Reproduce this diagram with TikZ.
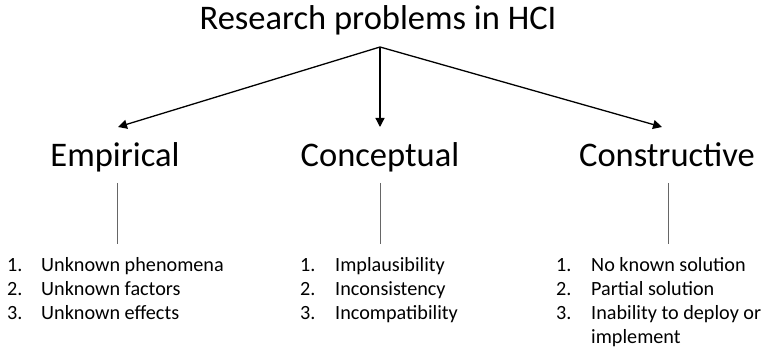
\documentclass[tikz,border=0pt]{standalone}
\usepackage{fontspec}
\setmainfont{Carlito}
\usetikzlibrary{arrows.meta}
\begin{document}
\begin{tikzpicture}[x=1pt,y=-1pt,
  heading/.style={font=\fontsize{34.5}{40}\selectfont, anchor=base, inner sep=0pt},
  itemtext/.style={font=\fontsize{20.2}{24}\selectfont, anchor=base west, inner sep=0pt},
  branch/.style={line width=1.3pt, -{Triangle[length=9pt,width=9pt]}},
  stem/.style={draw=black!60, line width=0.8pt}]
  \useasboundingbox (0,0) rectangle (766,352);

  % root and the three kinds of problem
  \node[heading] (root) at (378,29.5) {Research problems in HCI};
  \coordinate (apex) at (380,47);
  \node[heading] (emp) at (115,167) {Empirical};
  \node[heading] (con) at (380,167) {Conceptual};
  \node[heading] (cst) at (667,167) {Constructive};

  \coordinate (empTip) at (118,127);
  \coordinate (conTip) at (380,127);
  \coordinate (cstTip) at (662,127);
  \draw[branch] (apex) -- (empTip);
  \draw[branch] (apex) -- (conTip);
  \draw[branch] (apex) -- (cstTip);

  % stems down to the lists
  \coordinate (empA) at (117,183); \coordinate (empB) at (117,244);
  \coordinate (conA) at (380,183); \coordinate (conB) at (380,244);
  \coordinate (cstA) at (668,183); \coordinate (cstB) at (668,244);
  \draw[stem] (empA) -- (empB);
  \draw[stem] (conA) -- (conB);
  \draw[stem] (cstA) -- (cstB);

  % empirical list
  \node[itemtext] (e1n) at (7,272) {1.};
  \node[itemtext] (e1) at (41,272) {Unknown phenomena};
  \node[itemtext] (e2n) at (7,295.8) {2.};
  \node[itemtext] (e2) at (41,295.8) {Unknown factors};
  \node[itemtext] (e3n) at (7,319.6) {3.};
  \node[itemtext] (e3) at (41,319.6) {Unknown effects};

  % conceptual list
  \node[itemtext] (c1n) at (300,272) {1.};
  \node[itemtext] (c1) at (335,272) {Implausibility};
  \node[itemtext] (c2n) at (300,295.8) {2.};
  \node[itemtext] (c2) at (335,295.8) {Inconsistency};
  \node[itemtext] (c3n) at (300,319.6) {3.};
  \node[itemtext] (c3) at (335,319.6) {Incompatibility};

  % constructive list
  \node[itemtext] (k1n) at (556,272) {1.};
  \node[itemtext] (k1) at (591,272) {No known solution};
  \node[itemtext] (k2n) at (556,295.8) {2.};
  \node[itemtext] (k2) at (591,295.8) {Partial solution};
  \node[itemtext] (k3n) at (556,319.6) {3.};
  \node[itemtext] (k3) at (591,319.6) {Inability to deploy or};
  \node[itemtext] (k3b) at (591,343.4) {implement};
\end{tikzpicture}
\end{document}
